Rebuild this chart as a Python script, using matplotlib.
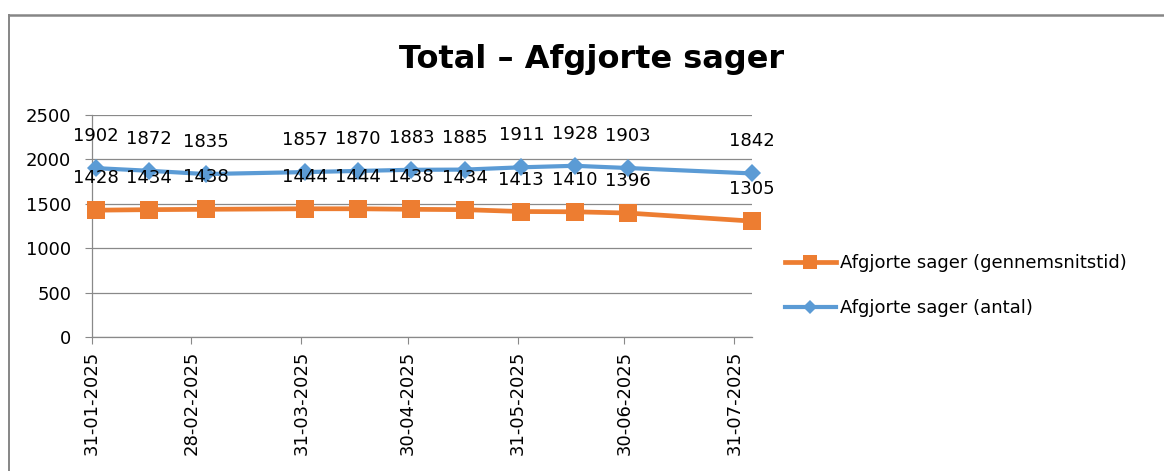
"""Total - Afgjorte sager: line chart with value labels (Excel look)."""
import matplotlib

matplotlib.use("Agg")
import matplotlib.pyplot as plt
import matplotlib.dates as mdates
from matplotlib.lines import Line2D
import pandas as pd

# data
dates = pd.to_datetime([
    "2025-02-01", "2025-02-16", "2025-03-04", "2025-04-01", "2025-04-16",
    "2025-05-01", "2025-05-16", "2025-06-01", "2025-06-16", "2025-07-01",
    "2025-08-05",
])
antal = [1902, 1872, 1835, 1857, 1870, 1883, 1885, 1911, 1928, 1903, 1842]
gennemsnitstid = [1428, 1434, 1438, 1444, 1444, 1438, 1434, 1413, 1410, 1396, 1305]
tick_dates = pd.to_datetime([
    "2025-01-31", "2025-02-28", "2025-03-31", "2025-04-30",
    "2025-05-31", "2025-06-30", "2025-07-31",
])
y_ticks = [0, 500, 1000, 1500, 2000, 2500]
title = "Total – Afgjorte sager"
label_tid = "Afgjorte sager (gennemsnitstid)"
label_antal = "Afgjorte sager (antal)"

ORANGE = "#ED7D31"
BLUE = "#5B9BD5"
GRID = "#898989"
FS = 13

plt.rcParams["font.family"] = ["DejaVu Sans"]

fig = plt.figure(figsize=(11.64, 4.71), dpi=100)

# chart-area border (left and top edges visible in the reference)
fig.add_artist(Line2D([8.5 / 1164, 8.5 / 1164], [0, 1 - 14.5 / 471],
                      transform=fig.transFigure, color="#868686", lw=1.4))
fig.add_artist(Line2D([8.5 / 1164, 1], [1 - 14.5 / 471, 1 - 14.5 / 471],
                      transform=fig.transFigure, color="#868686", lw=1.8))

fig.text(591.5 / 1164, 1 - 68 / 471, title, ha="center", va="baseline",
         fontsize=23, fontweight="bold")

ax = fig.add_axes([92 / 1164, 1 - 337 / 471, 660 / 1164, 222 / 471])

ax.plot(dates, gennemsnitstid, color=ORANGE, lw=3.4, marker="s", ms=13,
        mew=0, label=label_tid, clip_on=False, zorder=3)
ax.plot(dates, antal, color=BLUE, lw=3.0, marker="D", ms=9,
        mew=0, label=label_antal, clip_on=False, zorder=3)

for d, v in zip(dates, antal):
    ax.annotate(str(v), (d, v), xytext=(0, 23), textcoords="offset points",
                ha="center", va="center", fontsize=FS, zorder=5)
for d, v in zip(dates, gennemsnitstid):
    ax.annotate(str(v), (d, v), xytext=(0, 23), textcoords="offset points",
                ha="center", va="center", fontsize=FS, zorder=5)

ax.set_xlim(pd.Timestamp("2025-01-31"), pd.Timestamp("2025-08-05"))
ax.set_ylim(0, 2500)
ax.set_yticks(y_ticks)
ax.set_xticks(tick_dates)
ax.xaxis.set_major_formatter(mdates.DateFormatter("%d-%m-%Y"))
ax.tick_params(axis="x", labelrotation=90, labelsize=FS, length=5,
               color=GRID, pad=5)
ax.tick_params(axis="y", labelsize=FS, length=5, color=GRID, pad=10)

ax.grid(axis="y", color=GRID, lw=0.9)
ax.set_axisbelow(True)
for side in ("top", "right"):
    ax.spines[side].set_visible(False)
for side in ("left", "bottom"):
    ax.spines[side].set_color(GRID)
    ax.spines[side].set_linewidth(0.9)

ax.legend(loc="center left", bbox_to_anchor=(785 / 1164, 1 - 285.5 / 471),
          bbox_transform=fig.transFigure, frameon=False, fontsize=FS,
          borderpad=0, borderaxespad=0, handlelength=2.8, handletextpad=0.25,
          labelspacing=1.5, markerscale=0.8)

fig.savefig("out.png", dpi=100)
